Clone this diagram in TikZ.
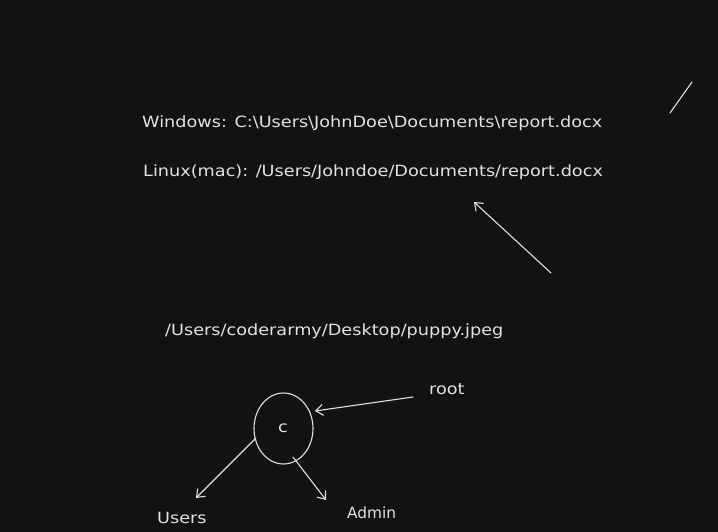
\documentclass[tikz,border=0pt]{standalone}
\usepackage{fontspec}
\setmainfont[FakeStretch=1.14]{DejaVu Sans}
\usetikzlibrary{arrows.meta,shapes.geometric}
\definecolor{bg}{HTML}{121212}
\definecolor{ink}{HTML}{E2E2E2}
\begin{document}
\begin{tikzpicture}[x=1pt,y=-1pt,
  lbl/.style={text=ink,font=\fontsize{15.5}{18}\selectfont,inner sep=0pt},
  conn/.style={draw=ink,line width=1.1pt,line cap=round},
  arr/.style={conn,-{Straight Barb[length=7pt,width=11pt]}}]
\fill[bg] (0,0) rectangle (718,532);
\useasboundingbox (0,0) rectangle (718,532);
\node[lbl,anchor=base west] (win) at (142,128) {Windows: C:\textbackslash Users\textbackslash JohnDoe\textbackslash Documents\textbackslash report.docx};
\node[lbl,anchor=base west] (lin) at (143,177) {Linux(mac): /Users/Johndoe/Documents/report.docx};
\node[lbl,anchor=base west] (pup) at (165,335) {/Users/coderarmy/Desktop/puppy.jpeg};
\node[draw=ink,line width=1.1pt,ellipse,minimum width=59pt,minimum height=71pt,inner sep=0pt] (c) at (283.5,428.5) {};
\node[lbl,anchor=base] (cl) at (283,432) {c};
\node[lbl,anchor=base west] (root) at (429,394) {root};
\node[lbl,anchor=base west] (users) at (157,523) {Users};
\node[lbl,anchor=base west] (admin) at (347,518) {\scalebox{0.87}[1]{Admin}};
\coordinate (s1) at (670,113);
\coordinate (s2) at (692,82);
\coordinate (a1) at (551,273);
\coordinate (a2) at (474,202);
\coordinate (r1) at (413,397);
\coordinate (r2) at (315,411);
\coordinate (u1) at (256,438);
\coordinate (u2) at (196,498);
\coordinate (d1) at (293,457);
\coordinate (d2) at (326,500);
\draw[conn] (s1) -- (s2);
\draw[arr] (a1) -- (a2);
\draw[arr] (r1) -- (r2);
\draw[arr] (u1) -- (u2);
\draw[arr] (d1) -- (d2);
\end{tikzpicture}
\end{document}
